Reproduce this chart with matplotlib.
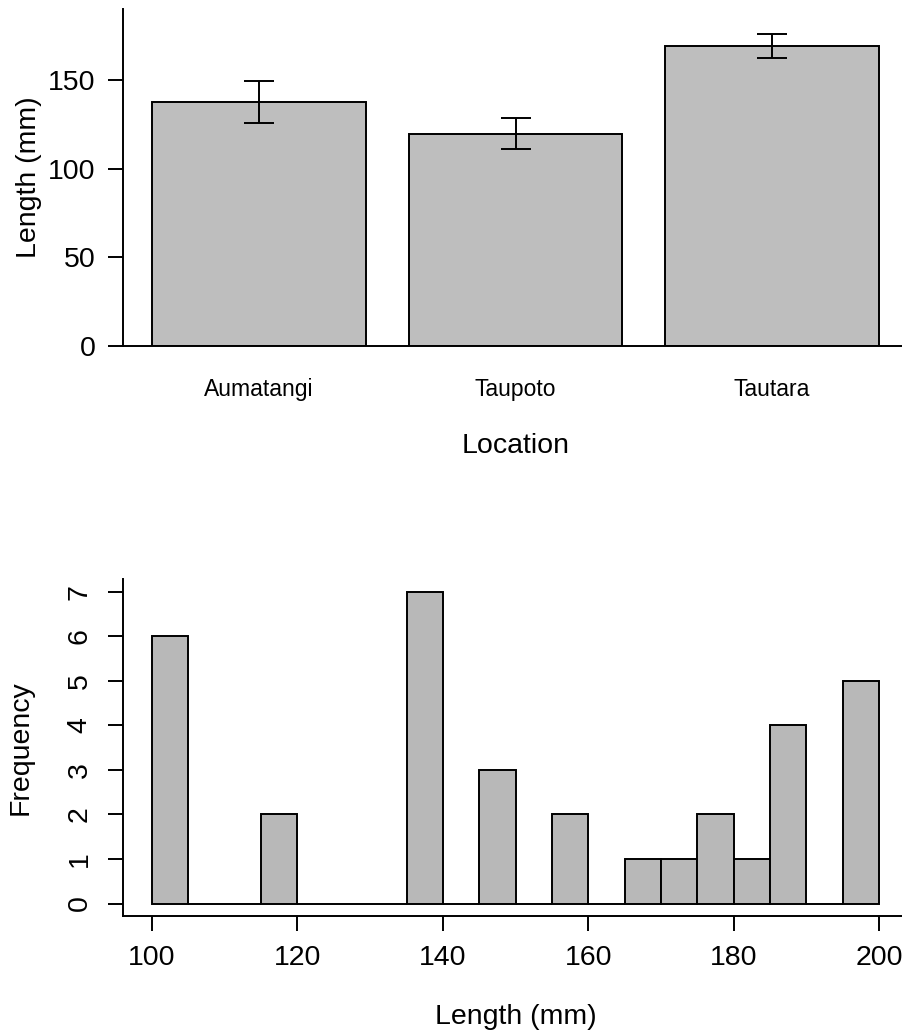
import matplotlib
matplotlib.use("Agg")
import matplotlib.pyplot as plt
import numpy as np

plt.rcParams['font.family'] = ['Liberation Sans', 'DejaVu Sans']

# mean length and error per location
locations = ['Aumatangi', 'Taupoto', 'Tautara']
mean_length = [137.5, 119.6, 168.9]
length_err = [11.7, 8.8, 6.8]

# histogram of lengths, 5 mm bins from 100 to 200
bin_edges = list(range(100, 205, 5))
bin_counts = [6, 0, 0, 2, 0, 0, 0, 7, 0, 3, 0, 2, 0, 1, 1, 2, 1, 4, 0, 5]

LW = 1.4
fig = plt.figure(figsize=(9.02, 10.35), dpi=100)

# ---- bar chart with error bars ----
ax1 = fig.add_axes([0.1364, 0.6657, 0.8703, 0.3257])
x = 0.7 + 1.2 * np.arange(len(locations))
ax1.bar(x, mean_length, width=1.0, color='#bebebe', edgecolor='black', linewidth=LW)
ax1.errorbar(x, mean_length, yerr=length_err, fmt='none', ecolor='black',
             elinewidth=LW, capsize=10.8, capthick=LW)
ax1.set_xlim(0.064, 3.736)
ax1.set_ylim(0, 190)
ax1.set_yticks([0, 50, 100, 150])
ax1.set_xticks(x)
ax1.set_xticklabels(locations, fontsize=16.5)
ax1.tick_params(axis='x', length=0, pad=23)
ax1.tick_params(axis='y', length=10.8, width=LW, labelsize=20.5, pad=9)
ax1.set_ylabel('Length (mm)', fontsize=20.5, labelpad=4.5)
ax1.set_xlabel('Location', fontsize=20.5, labelpad=23)
for s in ['top', 'right']:
    ax1.spines[s].set_visible(False)
for s in ['left', 'bottom']:
    ax1.spines[s].set_linewidth(LW)

# ---- histogram ----
ax2 = fig.add_axes([0.1364, 0.115, 0.8703, 0.3253])
ax2.bar(bin_edges[:-1], bin_counts, width=5, align='edge', color='#b8b8b8',
        edgecolor='black', linewidth=LW)
ax2.set_xlim(96, 204)
ax2.set_ylim(-0.28, 7.28)
ax2.set_xticks([100, 120, 140, 160, 180, 200])
ax2.set_yticks(range(0, 8))
ax2.tick_params(axis='both', length=10.8, width=LW, labelsize=20.5)
ax2.tick_params(axis='y', labelrotation=90, pad=11)
ax2.tick_params(axis='x', pad=10)
for lab in ax2.get_yticklabels():
    lab.set_verticalalignment('center')
ax2.set_ylabel('Frequency', fontsize=20.5, labelpad=24)
ax2.set_xlabel('Length (mm)', fontsize=20.5, labelpad=24)
for s in ['top', 'right']:
    ax2.spines[s].set_visible(False)
for s in ['left', 'bottom']:
    ax2.spines[s].set_linewidth(LW)

fig.savefig('out.png', dpi=100)
